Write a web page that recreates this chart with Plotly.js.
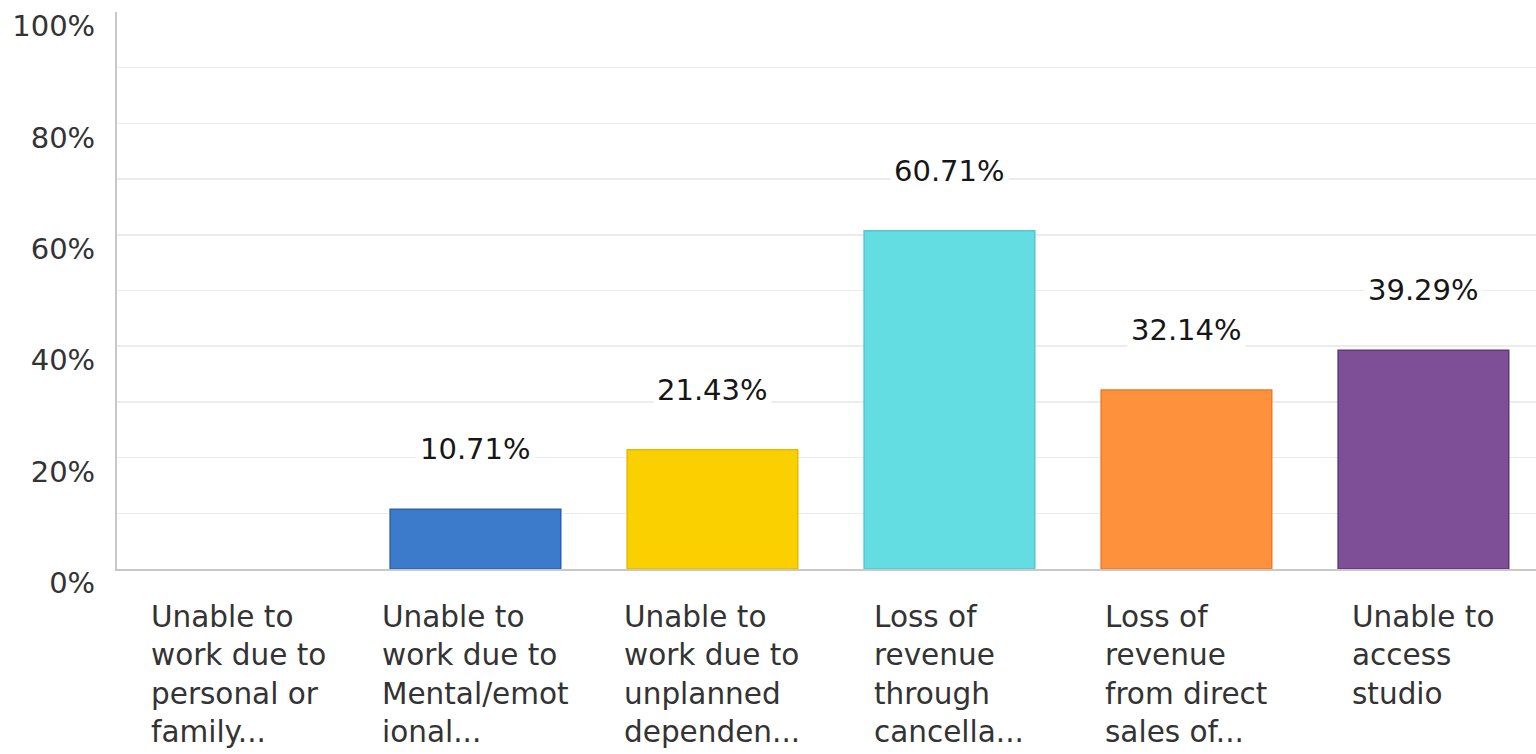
<!DOCTYPE html>
<html>
<head>
<meta charset="utf-8">
<script src="https://cdn.plot.ly/plotly-3.0.1.min.js"></script>
<style>
html,body{margin:0;padding:0;background:#fff;}
#chart{width:1536px;height:754px;}
</style>
</head>
<body>
<div id="chart"></div>
<script>
var categories = [
  "Unable to<br>work due to<br>personal or<br>family...",
  "Unable to<br>work due to<br>Mental/emot<br>ional...",
  "Unable to<br>work due to<br>unplanned<br>dependen...",
  "Loss of<br>revenue<br>through<br>cancella...",
  "Loss of<br>revenue<br>from direct<br>sales of...",
  "Unable to<br>access<br>studio"
];
var values = [0, 10.71, 21.43, 60.71, 32.14, 39.29];
var fillColors = ["#00bf6f", "#3c7bcb", "#fbd000", "#63dce2", "#fe913b", "#7e4f97"];
var lineColors = ["#00a35e", "#2d5faa", "#e3bc00", "#52c8ce", "#f07a25", "#603779"];

var xIdx = categories.map(function(_, i){ return i; });
var FONT = "DejaVu Sans, sans-serif";

var trace = {
  type: "bar",
  x: xIdx,
  y: values,
  width: 0.72,
  marker: {
    color: fillColors,
    line: { color: lineColors, width: values.map(function(v){ return v > 0 ? 1.5 : 0; }) }
  },
  hoverinfo: "skip"
};

var annotations = [];
values.forEach(function(v, i){
  if (v > 0) {
    annotations.push({
      x: i, y: v, xref: "x", yref: "y",
      text: v.toFixed(2) + "%",
      showarrow: false, yanchor: "middle", yshift: 60,
      bgcolor: "#ffffff", borderpad: 3,
      font: { family: FONT, size: 29, color: "#161616" }
    });
  }
});
categories.forEach(function(c, i){
  annotations.push({
    x: i, y: 0, xref: "x", yref: "paper",
    text: c, align: "left", xanchor: "center", yanchor: "top",
    showarrow: false, yshift: -30, borderpad: 0,
    font: { family: FONT, size: 29.5, color: "#333333" }
  });
});

var layout = {
  width: 1536, height: 754,
  margin: { l: 117, r: 0, t: 12, b: 185, pad: 0 },
  paper_bgcolor: "#ffffff", plot_bgcolor: "#ffffff",
  showlegend: false,
  xaxis: {
    range: [-0.5125, 5.475], showticklabels: false, showgrid: false,
    zeroline: false, showline: true, linecolor: "#c8c8c8", linewidth: 2,
    fixedrange: true
  },
  yaxis: {
    range: [0, 100], dtick: 20, ticksuffix: "%", showgrid: true,
    gridcolor: "#ececec", gridwidth: 1.5, zeroline: false,
    showline: true, linecolor: "#c8c8c8", linewidth: 2,
    minor: { dtick: 10, showgrid: true, gridcolor: "#ececec", gridwidth: 1.5 },
    ticks: "", ticklabelstandoff: 14, ticklabelshift: 14,
    tickfont: { family: FONT, size: 29, color: "#333333" },
    fixedrange: true
  },
  annotations: annotations
};

Plotly.newPlot("chart", [trace], layout, { staticPlot: true, displayModeBar: false });
</script>
</body>
</html>
